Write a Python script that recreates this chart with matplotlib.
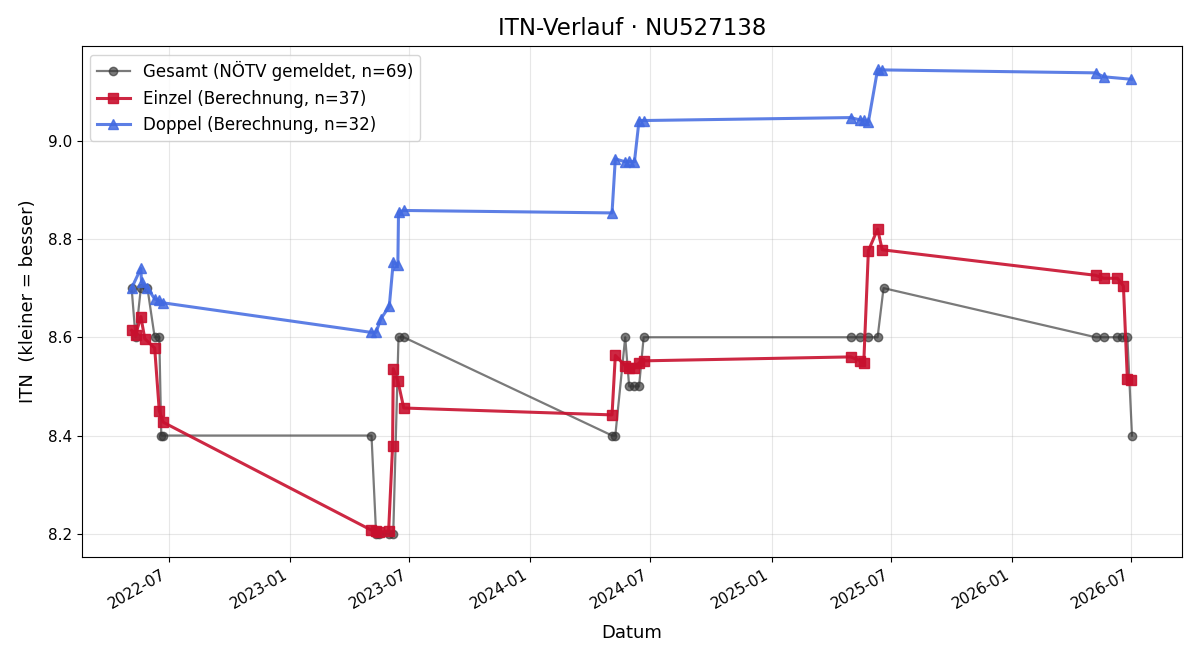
import pandas as pd
import matplotlib
matplotlib.use("Agg")
import matplotlib.pyplot as plt
import matplotlib.dates as mdates

# Gesamt (NÖTV gemeldet)
gesamt_dates = [
    "2022-05-06", "2022-05-12", "2022-05-20", "2022-05-30", "2022-06-10",
    "2022-06-17", "2022-06-20", "2022-06-23",
    "2023-05-05", "2023-05-12", "2023-05-17", "2023-05-31", "2023-06-07",
    "2023-06-15", "2023-06-23",
    "2024-05-04", "2024-05-09", "2024-05-24", "2024-05-30", "2024-06-07",
    "2024-06-14", "2024-06-21",
    "2025-05-01", "2025-05-16", "2025-05-28", "2025-06-11", "2025-06-20",
    "2026-05-08", "2026-05-20", "2026-06-10", "2026-06-17", "2026-06-25",
    "2026-07-02",
]
gesamt_itn = [
    8.7, 8.6, 8.7, 8.7, 8.6, 8.6, 8.4, 8.4,
    8.4, 8.2, 8.2, 8.2, 8.2, 8.6, 8.6,
    8.4, 8.4, 8.6, 8.5, 8.5, 8.5, 8.6,
    8.6, 8.6, 8.6, 8.6, 8.7,
    8.6, 8.6, 8.6, 8.6, 8.6, 8.4,
]

# Einzel (Berechnung)
einzel_dates = [
    "2022-05-06", "2022-05-12", "2022-05-20", "2022-05-26", "2022-06-10",
    "2022-06-17", "2022-06-23",
    "2023-05-04", "2023-05-12", "2023-05-17", "2023-05-31", "2023-06-06",
    "2023-06-07", "2023-06-14", "2023-06-23",
    "2024-05-04", "2024-05-09", "2024-05-24", "2024-05-30", "2024-06-07",
    "2024-06-14", "2024-06-21",
    "2025-05-01", "2025-05-16", "2025-05-21", "2025-05-28", "2025-06-11",
    "2025-06-18",
    "2026-05-08", "2026-05-20", "2026-06-10", "2026-06-19", "2026-06-25",
    "2026-07-01",
]
einzel_itn = [
    8.614, 8.604, 8.642, 8.597, 8.578, 8.450, 8.427,
    8.208, 8.206, 8.203, 8.206, 8.378, 8.536, 8.511, 8.456,
    8.442, 8.563, 8.542, 8.537, 8.537, 8.548, 8.552,
    8.560, 8.552, 8.548, 8.776, 8.820, 8.778,
    8.726, 8.720, 8.720, 8.704, 8.515, 8.513,
]

# Doppel (Berechnung)
doppel_dates = [
    "2022-05-06", "2022-05-20", "2022-05-21", "2022-05-30", "2022-06-10",
    "2022-06-17", "2022-06-23",
    "2023-05-04", "2023-05-12", "2023-05-19", "2023-06-01", "2023-06-07",
    "2023-06-14", "2023-06-15", "2023-06-23",
    "2024-05-04", "2024-05-09", "2024-05-24", "2024-05-30", "2024-06-07",
    "2024-06-14", "2024-06-21",
    "2025-05-01", "2025-05-16", "2025-05-21", "2025-05-28", "2025-06-11",
    "2025-06-18",
    "2026-05-08", "2026-05-20", "2026-07-01",
]
doppel_itn = [
    8.700, 8.740, 8.713, 8.700, 8.678, 8.675, 8.670,
    8.610, 8.610, 8.637, 8.663, 8.753, 8.747, 8.855, 8.858,
    8.853, 8.963, 8.957, 8.958, 8.957, 9.041, 9.041,
    9.047, 9.042, 9.042, 9.038, 9.145, 9.144,
    9.138, 9.130, 9.125,
]

fig, ax = plt.subplots(figsize=(12, 6.6), dpi=100)

ax.plot(pd.to_datetime(gesamt_dates), gesamt_itn,
        marker="o", markersize=6, color="#333333", alpha=0.65, linewidth=1.6,
        label="Gesamt (NÖTV gemeldet, n=69)")
ax.plot(pd.to_datetime(einzel_dates), einzel_itn,
        marker="s", markersize=7, color="#c8102e", alpha=0.9, linewidth=2.2,
        label="Einzel (Berechnung, n=37)")
ax.plot(pd.to_datetime(doppel_dates), doppel_itn,
        marker="^", markersize=7, color="#4169e1", alpha=0.85, linewidth=2.2,
        label="Doppel (Berechnung, n=32)")

ax.set_title("ITN-Verlauf · NU527138", fontsize=16.5, pad=8)
ax.set_xlabel("Datum", fontsize=13, labelpad=9)
ax.set_ylabel("ITN  (kleiner = besser)", fontsize=13, labelpad=8)
ax.grid(True, alpha=0.3)
ax.legend(loc="upper left", fontsize=12)

ax.xaxis.set_major_locator(mdates.MonthLocator(bymonth=[1, 7]))
ax.xaxis.set_major_formatter(mdates.DateFormatter("%Y-%m"))
ax.tick_params(axis="x", labelsize=11)
ax.tick_params(axis="y", labelsize=11)
fig.autofmt_xdate()

fig.subplots_adjust(left=0.068, right=0.985, top=0.930, bottom=0.156)
fig.savefig("out.png", dpi=100)
